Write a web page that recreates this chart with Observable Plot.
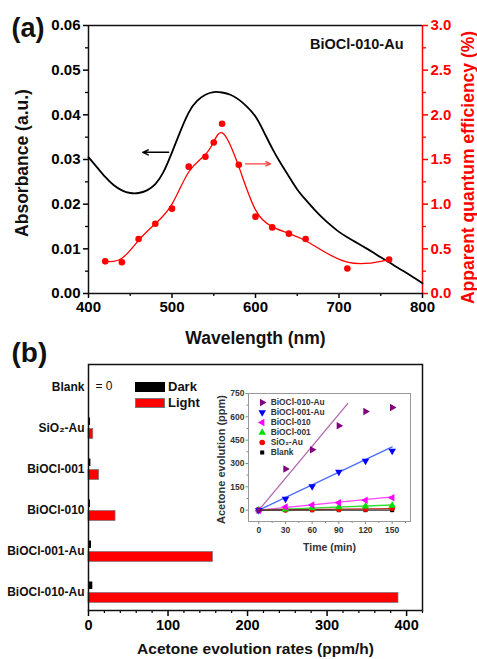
<!DOCTYPE html>
<html><head><meta charset="utf-8">
<script src="https://cdn.jsdelivr.net/npm/d3@7"></script>
<script src="https://cdn.jsdelivr.net/npm/@observablehq/plot@0.6"></script>
<style>
body{margin:0;background:#fff;}
#wrap{position:relative;width:477px;height:659px;font-family:"Liberation Sans",Arial,sans-serif;overflow:hidden;background:#fff;}
#wrap > *{position:absolute;}
</style></head><body><div id="wrap"></div>
<script>
// ---------- Panel (a) data ----------
const wavelength = [400,410,420,430,440,450,460,470,480,490,500,510,520,530,540,550,560,570,580,590,600,610,620,630,640,650,660,670,680,690,700,710,720,730,740,750,760,770,780,790,800];
const absorbance = [0.0305,0.0283,0.0261,0.0243,0.0231,0.0225,0.0225,0.0231,0.0245,0.0273,0.0316,0.0363,0.0405,0.0431,0.0445,0.0451,0.0450,0.0445,0.0434,0.0418,0.0396,0.0362,0.0325,0.0292,0.0262,0.0233,0.0210,0.0189,0.0170,0.0153,0.0138,0.0126,0.0115,0.0104,0.0093,0.0081,0.0070,0.0058,0.0047,0.0035,0.0023];
const aqeWavelength = [420,440,460,480,500,520,540,550,560,580,600,620,640,660,710,760];
const aqeValues = [0.36,0.35,0.61,0.78,0.95,1.42,1.53,1.69,1.90,1.44,0.86,0.74,0.67,0.61,0.28,0.38];
const wlTicks = [400,500,600,700,800];
const wlMinor = [450,550,650,750];
const absTicks = [0,0.01,0.02,0.03,0.04,0.05,0.06];
const absMinor = [0.005,0.015,0.025,0.035,0.045,0.055];
const aqeTicks = [0,0.5,1,1.5,2,2.5,3];
const aqeMinor = [0.25,0.75,1.25,1.75,2.25,2.75];
const absArrow = [{x1:496, x2:465, v:0.0316}];
const aqeArrow = [{x1:588, x2:618, v:1.452}];

// ---------- Panel (b) data ----------
const categories = ["Blank","SiO₂-Au","BiOCl-001","BiOCl-010","BiOCl-001-Au","BiOCl-010-Au"];
const darkRates = [0,2.5,3,2.5,3.8,5.4];
const lightRates = [0,6,13.4,34,156.5,389.8];
const rateTicks = [0,100,200,300,400];
const rateMinor = [20,40,60,80,120,140,160,180,220,240,260,280,320,340,360,380,420];
const blankNote = [{cat:"Blank", text:"= 0"}];

// ---------- Inset data ----------
const timeMin = [0,30,60,90,120,150];
const insetNames = ["BiOCl-010-Au","BiOCl-001-Au","BiOCl-010","BiOCl-001","SiO₂-Au","Blank"];
const ppm010Au = [0,265,388,542,634,660];
const ppm001Au = [0,72,152,246,317,381];
const ppm010 = [0,20,33,48,63,80];
const ppm001 = [0,6,13,20,25,30];
const ppmSiO2Au = [0,2,4,6,8,12];
const ppmBlank = [0,0,0,0,0,0];
const fitEndTime = [100,150,150,150,150,150];
const fitEndPpm = [685,407,85,33,10,0];
const markerColors = ["#800080","#0000ff","#ff00ff","#00e000","#ff0000","#000000"];
const lineColors = ["#b06ab0","#4b6bff","#ff44ff","#33dd33","#cc2222","#333333"];
const timeTicks = [0,30,60,90,120,150];
const timeMinor = [15,45,75,105,135,165];
const ppmTicks = [0,150,300,450,600,750];
const ppmMinor = [75,225,375,525,675];

// ---------- helpers ----------
const FONT = '"Liberation Sans", Arial, sans-serif';
const sqrt3 = Math.sqrt(3);
const triRight = {draw(c,s){const y=-Math.sqrt(s/(sqrt3*3));c.moveTo(-2*y,0);c.lineTo(y,-sqrt3*y);c.lineTo(y,sqrt3*y);c.closePath();}};
const triDown = {draw(c,s){const y=-Math.sqrt(s/(sqrt3*3));c.moveTo(0,-2*y);c.lineTo(sqrt3*y,y);c.lineTo(-sqrt3*y,y);c.closePath();}};
const triLeft = {draw(c,s){const y=-Math.sqrt(s/(sqrt3*3));c.moveTo(2*y,0);c.lineTo(-y,sqrt3*y);c.lineTo(-y,-sqrt3*y);c.closePath();}};
const symbols = [triRight, triDown, triLeft, d3.symbolTriangle, "circle", "square"];
const blank = () => "";
const wrap = document.getElementById("wrap");

// ---------- Panel (a) ----------
const K = 0.06 / 3; // right axis (AQE %) mapped onto absorbance scale
const absData = wavelength.map((w,i)=>({w, a:absorbance[i]}));
const aqeData = aqeWavelength.map((w,i)=>({w, q:aqeValues[i]}));
const plotA = Plot.plot({
  width:477, height:345, marginLeft:88, marginRight:55, marginTop:25, marginBottom:52,
  style:{fontFamily:FONT, fontWeight:"bold", background:"transparent", overflow:"visible"},
  x:{domain:[400,800], axis:null},
  y:{domain:[0,0.06], axis:null},
  marks:[
    Plot.axisX({ticks:wlTicks, tickSize:5, tickPadding:3, fontSize:15, strokeWidth:1.5, label:null}),
    Plot.axisX({ticks:wlMinor, tickSize:3, tickFormat:blank, strokeWidth:1.3, label:null}),
    Plot.axisY({ticks:absTicks, tickSize:5, tickPadding:3, tickFormat:d3.format(".2f"), fontSize:15, strokeWidth:1.5, label:null}),
    Plot.axisY({ticks:absMinor, tickSize:3, tickFormat:blank, strokeWidth:1.3, label:null}),
    Plot.axisY({anchor:"right", ticks:aqeTicks.map(v=>v*K), tickFormat:d=>(d/K).toFixed(1), tickSize:5, tickPadding:3, fontSize:15, strokeWidth:1.5, color:"#ff0000", label:null}),
    Plot.axisY({anchor:"right", ticks:aqeMinor.map(v=>v*K), tickFormat:blank, tickSize:3, strokeWidth:1.3, color:"#ff0000", label:null}),
    Plot.ruleY([0.06], {stroke:"#111", strokeWidth:1.5}),
    Plot.ruleY([0], {stroke:"#111", strokeWidth:1.5}),
    Plot.ruleX([400], {stroke:"#111", strokeWidth:1.5}),
    Plot.ruleX([800], {stroke:"#ff0000", strokeWidth:1.5}),
    Plot.line(absData, {x:"w", y:"a", curve:"natural", stroke:"#000", strokeWidth:1.8}),
    Plot.line(aqeData, {x:"w", y:d=>d.q*K, curve:"basis", stroke:"#ff0000", strokeWidth:1.3}),
    Plot.dot(aqeData, {x:"w", y:d=>d.q*K, r:3.3, fill:"#ff0000", stroke:"none"}),
    Plot.arrow(absArrow, {x1:"x1", x2:"x2", y1:"v", y2:"v", stroke:"#000", strokeWidth:1.5, headLength:6, headAngle:50}),
    Plot.arrow(aqeArrow, {x1:"x1", x2:"x2", y1:d=>d.v*K, y2:d=>d.v*K, stroke:"#ff4040", strokeWidth:1.3, headLength:6, headAngle:50}),
    Plot.text(["BiOCl-010-Au"], {frameAnchor:"top-right", textAnchor:"end", lineAnchor:"middle", dx:-19, dy:18.5, fontSize:14.5, fill:"#111"}),
    Plot.text(["(a)"], {frameAnchor:"top-left", textAnchor:"start", lineAnchor:"middle", dx:-77, dy:3, fontSize:27, fill:"#111"}),
    Plot.text(["Absorbance (a.u.)"], {frameAnchor:"left", textAnchor:"middle", rotate:-90, dx:-66, dy:3.5, fontSize:17.5, fill:"#111"}),
    Plot.text(["Apparent quantum efficiency (%)"], {frameAnchor:"right", textAnchor:"middle", rotate:-90, dx:46, dy:8, fontSize:17.5, fill:"#ff0000"}),
    Plot.text(["Wavelength (nm)"], {frameAnchor:"bottom", textAnchor:"middle", lineAnchor:"middle", dy:45, fontSize:17.5, fill:"#111"})
  ]
});
plotA.style.left = "0px"; plotA.style.top = "0px";
wrap.appendChild(plotA);

// ---------- Panel (b) ----------
const darkRows = categories.map((c,i)=>({cat:c, v:darkRates[i]})).filter(d=>d.v>0);
const lightRows = categories.map((c,i)=>({cat:c, v:lightRates[i]})).filter(d=>d.v>0);
const plotB = Plot.plot({
  width:477, height:319, marginLeft:88, marginRight:55, marginTop:24, marginBottom:49,
  style:{fontFamily:FONT, fontWeight:"bold", background:"transparent", overflow:"visible"},
  x:{domain:[0,420], axis:null},
  y:{type:"band", domain:categories, padding:0, axis:null},
  marks:[
    Plot.barX(darkRows, {x:"v", y:"cat", fill:"#000", insetTop:12.5, insetBottom:21}),
    Plot.barX(lightRows, {x:"v", y:"cat", fill:"#ff0000", stroke:"#777", strokeWidth:0.7, insetTop:23.5, insetBottom:7.5}),
    Plot.text(blankNote, {x:()=>0, y:"cat", text:"text", dx:7, dy:1, textAnchor:"start", fontSize:12, fontWeight:"normal", fill:"#111"}),
    Plot.axisX({ticks:rateTicks, tickSize:6, tickPadding:3, fontSize:14.5, strokeWidth:1.5, label:null}),
    Plot.axisX({ticks:rateMinor, tickSize:3, tickFormat:blank, strokeWidth:1.2, label:null}),
    Plot.axisY({tickSize:0, tickPadding:4, fontSize:12, dy:2, fill:"#111", label:null}),
    Plot.frame({stroke:"#111", strokeWidth:1.5}),
    Plot.text(["(b)"], {frameAnchor:"top-left", textAnchor:"start", lineAnchor:"middle", dx:-77, dy:-11.5, fontSize:28, fill:"#111"}),
    Plot.text(["Acetone evolution rates (ppm/h)"], {frameAnchor:"bottom", textAnchor:"middle", lineAnchor:"middle", dy:39, fontSize:15.5, fill:"#111"})
  ]
});
plotB.style.left = "0px"; plotB.style.top = "340px";
wrap.appendChild(plotB);

// Dark / Light legend
function legendItem(top, color, label){
  const sw = document.createElement("div");
  sw.style.cssText = `left:135px;top:${top}px;width:30px;height:10px;background:${color};box-sizing:border-box;${color!=="#000"?"border:0.7px solid #777;":""}`;
  wrap.appendChild(sw);
  const t = document.createElement("div");
  t.textContent = label;
  t.style.cssText = `left:168px;top:${top-3}px;font:bold 13px ${FONT};color:#111;line-height:16px;`;
  wrap.appendChild(t);
}
legendItem(382, "#000", "Dark");
legendItem(397.5, "#ff0000", "Light");

// ---------- Inset ----------
const insetPpm = [ppm010Au, ppm001Au, ppm010, ppm001, ppmSiO2Au, ppmBlank];
const insetMarks = [];
insetNames.forEach((name,i)=>{
  const fit = [{t:0,p:0},{t:fitEndTime[i], p:fitEndPpm[i]}];
  insetMarks.push(Plot.line(fit, {x:"t", y:"p", stroke:lineColors[i], strokeWidth:1.3}));
});
insetNames.slice().reverse().forEach((name,j)=>{
  const i = insetNames.length-1-j;
  const pts = timeMin.map((t,k)=>({t, p:insetPpm[i][k]}));
  insetMarks.push(Plot.dot(pts, {x:"t", y:"p", symbol:symbols[i], r:i===5?2.3:2.8, fill:markerColors[i], stroke:"none"}));
});
const plotC = Plot.plot({
  width:220, height:175, marginLeft:48, marginRight:10, marginTop:13, marginBottom:34,
  style:{fontFamily:FONT, fontWeight:"bold", background:"transparent", overflow:"visible"},
  x:{domain:[-11.6,170.6], axis:null},
  y:{domain:[-73,750], axis:null},
  marks:[
    Plot.axisX({ticks:timeTicks, tickSize:3, tickPadding:2, fontSize:8.5, stroke:"#888", fill:"#333", label:null}),
    Plot.axisX({ticks:timeMinor, tickSize:2, tickFormat:blank, stroke:"#888", label:null}),
    Plot.axisY({ticks:ppmTicks, tickSize:2.5, tickPadding:1.5, fontSize:8.5, stroke:"#888", fill:"#333", label:null}),
    Plot.axisY({ticks:ppmMinor, tickSize:1.5, tickFormat:blank, stroke:"#888", label:null}),
    Plot.frame({stroke:"#999", strokeWidth:1}),
    ...insetMarks,
    Plot.text(["Acetone evolution (ppm)"], {frameAnchor:"left", textAnchor:"middle", rotate:-90, dx:-27, dy:2, fontSize:11, fill:"#333"}),
    Plot.text(["Time (min)"], {frameAnchor:"bottom", textAnchor:"middle", lineAnchor:"middle", dy:26, fontSize:10.5, fill:"#333"})
  ]
});
plotC.style.left = "200px"; plotC.style.top = "380px";
wrap.appendChild(plotC);

// inset legend
const legRows = insetNames.map((name,i)=>({name, i}));
const legMarks = legRows.map(d=>Plot.dot([d], {y:"name", frameAnchor:"left", symbol:symbols[d.i], r:d.i===5?2.3:2.8, fill:markerColors[d.i], stroke:"none"}));
const plotL = Plot.plot({
  width:90, height:66, marginLeft:6.7, marginRight:0, marginTop:0, marginBottom:0,
  style:{fontFamily:FONT, fontWeight:"bold", background:"transparent", overflow:"visible"},
  y:{type:"point", domain:insetNames, range:[5.7,58.5], padding:0, axis:null},
  marks:[
    ...legMarks,
    Plot.text(legRows, {y:"name", text:"name", frameAnchor:"left", textAnchor:"start", dx:8.5, fontSize:8.4, fill:"#333"})
  ]
});
plotL.style.left = "255px"; plotL.style.top = "395px";
wrap.appendChild(plotL);
</script></body></html>
